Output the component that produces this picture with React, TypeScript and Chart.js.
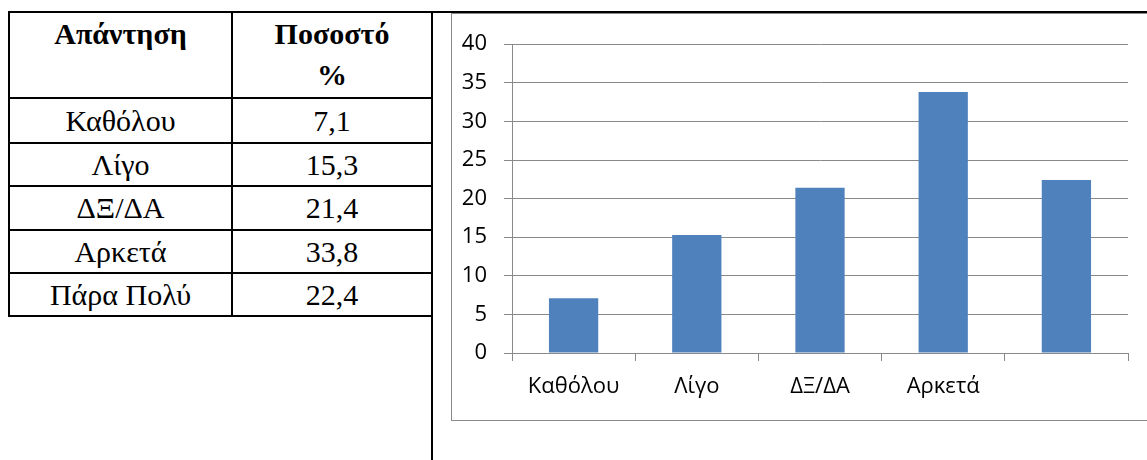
import React, { useEffect, useRef } from "react";
import { Chart, registerables } from "chart.js";

Chart.register(...registerables);

// ---- data ----
const headerAnswer = "Απάντηση";
const headerPercent = ["Ποσοστό", "%"];
const categories = ["Καθόλου", "Λίγο", "ΔΞ/ΔΑ", "Αρκετά", "Πάρα Πολύ"];
const tableValues = ["7,1", "15,3", "21,4", "33,8", "22,4"];
const percentages = [7.1, 15.3, 21.4, 33.8, 22.4];
const axisLabels = ["Καθόλου", "Λίγο", "ΔΞ/ΔΑ", "Αρκετά", ""];
const yMin = 0;
const yMax = 40;
const yStep = 5;

const LINE = "#000";
const GRID = "#898989";
const BAR = "#4F81BD";
const CHART_FONT = "'Open Sans', 'Noto Sans', sans-serif";
const TABLE_FONT = "'Liberation Serif', 'Times New Roman', serif";

const rowLines = [97, 142, 185, 229, 272, 315];

function BarChart() {
  const ref = useRef<HTMLCanvasElement | null>(null);
  useEffect(() => {
    if (!ref.current) return;
    const chart = new Chart(ref.current, {
      type: "bar",
      data: {
        labels: axisLabels,
        datasets: [
          {
            data: percentages,
            backgroundColor: BAR,
            borderWidth: 0,
            barPercentage: 0.4,
            categoryPercentage: 1.0,
          },
        ],
      },
      options: {
        responsive: false,
        animation: false,
        devicePixelRatio: 1,
        layout: { padding: { top: 29, right: 14, left: 0, bottom: 0 } },
        plugins: { legend: { display: false }, tooltip: { enabled: false }, title: { display: false } },
        scales: {
          x: {
            grid: { display: true, drawOnChartArea: false, drawTicks: true, tickLength: 8, color: GRID, offset: true },
            border: { display: true, color: GRID, width: 1 },
            ticks: { color: "#000", font: { family: CHART_FONT, size: 22 }, padding: 13, maxRotation: 0, autoSkip: false },
            afterFit: (s: any) => { s.height = 66; },
          },
          y: {
            min: yMin,
            max: yMax,
            ticks: { stepSize: yStep, padding: 17, color: "#000", font: { family: CHART_FONT, size: 22 } },
            grid: { color: GRID, tickLength: 8, lineWidth: 1 },
            border: { display: true, color: GRID, width: 1 },
            afterFit: (s: any) => { s.width = 60; },
          },
        },
      },
    });
    return () => chart.destroy();
  }, []);
  return (
    <canvas
      ref={ref}
      width={690}
      height={405}
      style={{ position: "absolute", left: 452, top: 14, width: 690, height: 405 }}
    />
  );
}

export default function App() {
  const hLine = (top: number, left: number, width: number, key: string) => (
    <div key={key} style={{ position: "absolute", left, top, width, height: 2, background: LINE }} />
  );
  const vLine = (left: number, top: number, height: number, key: string) => (
    <div key={key} style={{ position: "absolute", left, top, width: 2, height, background: LINE }} />
  );
  const cellText = (text: string, left: number, width: number, top: number, height: number, key: string, bold = false) => (
    <div
      key={key}
      style={{
        position: "absolute",
        left,
        top,
        width,
        height,
        display: "flex",
        alignItems: "center",
        justifyContent: "center",
        fontFamily: TABLE_FONT,
        fontSize: 30,
        fontWeight: bold ? 700 : 400,
        lineHeight: `${height}px`,
        color: "#000",
        whiteSpace: "nowrap",
      }}
    >
      {text}
    </div>
  );

  return (
    <div style={{ position: "fixed", left: 0, top: 0, width: 1147, height: 460, overflow: "hidden", background: "#fff" }}>
      {/* outer table lines */}
      {hLine(11, 8, 1139, "top")}
      {vLine(8, 11, 306, "l")}
      {vLine(231, 11, 306, "m")}
      {vLine(431, 11, 449, "r")}
      {rowLines.map((y, i) => hLine(y, 8, 425, "row" + i))}

      {/* header */}
      {cellText(headerAnswer, 10, 221, 13, 41, "h1", true)}
      {headerPercent.map((t, i) => cellText(t, 233, 198, 13 + i * 41, 41, "h2" + i, true))}

      {/* data rows */}
      {categories.map((c, i) => {
        const top = rowLines[i] + 2;
        const h = rowLines[i + 1] - rowLines[i] - 2;
        return [
          cellText(c, 10, 221, top, h, "c" + i),
          cellText(tableValues[i], 233, 198, top, h, "v" + i),
        ];
      })}

      {/* chart frame */}
      <div
        style={{
          position: "absolute",
          left: 451,
          top: 13,
          width: 800,
          height: 408,
          boxSizing: "border-box",
          border: "1px solid #8a8a8a",
          background: "#fff",
        }}
      />
      <BarChart />
    </div>
  );
}
